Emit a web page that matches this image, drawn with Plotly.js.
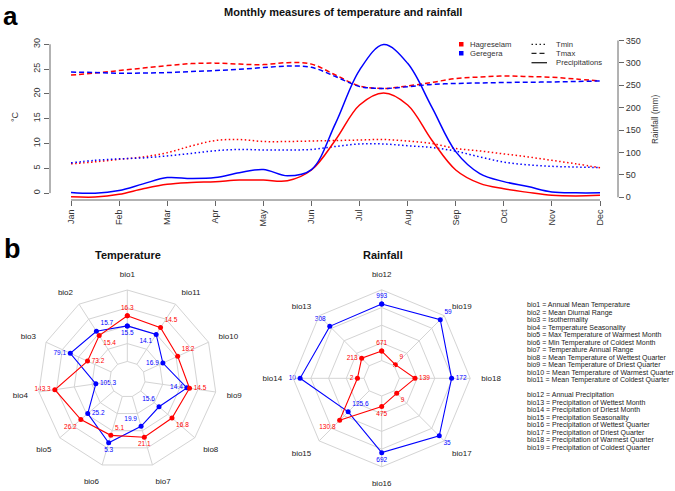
<!DOCTYPE html>
<html><head><meta charset="utf-8">
<script src="https://cdn.plot.ly/plotly-3.0.1.min.js"></script>
<style>html,body{margin:0;padding:0;background:#fff}#chart{width:675px;height:491px}</style>
</head><body><div id="chart"></div>
<script>
// ---------- data: panel a ----------
const monthLabels = ['Jan','Feb','Mar','Apr','May','Jun','Jul','Aug','Sep','Oct','Nov','Dec'];
const monthTicks = [1,2,3,4,5,6,7,8,9,10,11,12];
const sampleX = [1,1.5,2,2.5,3,3.5,4,4.5,5,5.5,6,6.5,7,7.5,8,8.5,9,9.5,10,10.5,11,11.5,12];
const tmaxH = [23.8,24.2,24.7,25.2,25.7,26.1,26.2,26.0,25.9,26.3,26.0,23.8,21.6,21.1,21.6,22.3,23.1,23.4,23.6,23.5,23.35,23.0,22.6];
const tmaxG = [24.4,24.3,24.15,24.2,24.3,24.5,24.7,24.95,25.3,25.6,25.35,23.5,21.5,21.1,21.45,21.9,22.1,22.2,22.3,22.35,22.4,22.5,22.6];
const tminH = [5.9,6.3,6.8,7.3,8.15,9.5,10.6,10.8,10.4,10.4,10.5,10.6,10.7,10.8,10.5,10.0,9.0,8.5,7.9,7.3,6.6,5.9,5.1];
const tminG = [6.1,6.6,6.9,7.1,7.5,8.0,8.55,8.8,8.7,8.7,8.8,9.4,9.9,9.9,9.55,9.2,8.45,7.3,6.25,5.7,5.4,5.25,5.15];
const rainH = [1.4,0.7,6.6,19,29,33,35,38.6,38.6,37,61,128,206,233,206,128,61,31,19,11,4.4,3,4.4];
const rainG = [11,9,15,30,44,42,44,55,62,48,62,165,284,341,299,202,102,53,35,24,12,10,10];
const tempTicks = [0,5,10,15,20,25,30];
const rainTicks = [0,50,100,150,200,250,300,350];

// ---------- data: panel b ----------
const tempCats = ['bio1','bio2','bio3','bio4','bio5','bio6','bio7','bio8','bio9','bio10','bio11'];
const tempValH = ['16.3','15.4','73.2','143.3','26.2','5.1','21.1','16.8','14.5','18.2','14.5'];
const tempValG = ['15.5','15.7','79.1','105.3','25.2','5.3','19.9','15.6','14.4','16.9','14.1'];
const tempRH = [3.56,2.91,2.45,4.1,3.44,3.27,3.38,3.31,3.52,3.1,3.44];
const tempRG = [2.99,3.2,3.51,1.78,2.93,3.7,2.74,2.35,3.37,2.19,2.99];
const rainCats = ['bio12','bio13','bio14','bio15','bio16','bio17','bio18','bio19'];
const rainValH = ['671','213','2','130.8','475','9','139','9'];
const rainValG = ['993','308','10','125.6','692','35','172','59'];
const rainRH = [1.54,1.6,1.37,3.36,1.6,1.2,1.88,1.09];
const rainRG = [4.2,4.15,4.61,2.68,4.2,4.6,3.95,4.68];
const radarRings = [1,2,3,4,5];
const bioKey1 = ['bio1 = Annual Mean Temperature','bio2 = Mean Diurnal Range','bio3 = Isothermality','bio4 = Temperature Seasonality','bio5 = Max Temperature of Warmest Month','bio6 = Min Temperature of Coldest Month','bio7 = Temperature Annual Range','bio8 = Mean Temperature of Wettest Quarter','bio9 = Mean Temperature of Driest Quarter','bio10 = Mean Temperature of Warmest Quarter','bio11 = Mean Temperature of Coldest Quarter'];
const bioKey2 = ['bio12 = Annual Precipitation','bio13 = Precipitation of Wettest Month','bio14 = Precipitation of Driest Month','bio15 = Precipitation Seasonality','bio16 = Precipitation of Wettest Quarter','bio17 = Precipitation of Driest Quarter','bio18 = Precipitation of Warmest Quarter','bio19 = Precipitation of Coldest Quarter'];

// label placement (style)
const tempPosH = ['top center','bottom right','middle right','middle left','bottom left','top right','bottom center','bottom right','middle right','top right','top right'];
const tempPosG = ['bottom center','top right','middle left','middle right','middle right','bottom center','top left','top left','middle left','middle left','bottom left'];
const rainPosH = ['top center','middle left','middle left','bottom left','bottom center','bottom right','middle right','top right'];
const rainPosG = ['top center','top left','middle left','top right','bottom center','bottom right','middle right','top right'];

const W = 675, H = 491;
const px = v => v / W, py = v => 1 - v / H;
const RED = '#ff0000', BLUE = '#0000ff';
const FONT = 'Liberation Sans, Arial, sans-serif';

const traces = [];
function line(y, color, dash, axis) {
  traces.push({type:'scatter', x: sampleX, y: y, mode:'lines', xaxis:'x', yaxis: axis,
    line:{color: color, width: 1.5, dash: dash, shape:'spline', smoothing: 1}, showlegend:false, hoverinfo:'skip'});
}
line(tminH, RED, '1.5px,2.5px', 'y');
line(tminG, BLUE, '1.5px,2.5px', 'y');
line(tmaxH, RED, '5px,3px', 'y');
line(tmaxG, BLUE, '5px,3px', 'y');
line(rainH, RED, 'solid', 'y2');
line(rainG, BLUE, 'solid', 'y2');

function close(a, extra) { return a.concat([extra === undefined ? a[0] : extra]); }
function radar(sub, cats, r, vals, pos, color) {
  traces.push({type:'scatterpolar', subplot: sub, theta: close(cats), r: close(r),
    text: close(vals, ''), textposition: close(pos, 'top center'), mode:'lines+markers+text',
    line:{color: color, width: 1.1}, marker:{color: color, size: 5},
    textfont:{size: 6.5, color: color, family: FONT}, cliponaxis:false, showlegend:false, hoverinfo:'skip'});
}
radar('polar', tempCats, tempRG, tempValG, tempPosG, BLUE);
radar('polar', tempCats, tempRH, tempValH, tempPosH, RED);
radar('polar2', rainCats, rainRG, rainValG, rainPosG, BLUE);
radar('polar2', rainCats, rainRH, rainValH, rainPosH, RED);

const AX = '#666', TXT = '#333', GRID = '#d4d4d4';
const xL = px(50), xR = px(618), yB = py(200), yT = py(35);

function polarCfg(cx, cy, R, cats) {
  return {
    domain:{x:[px(cx-R), px(cx+R)], y:[py(cy+R), py(cy-R)]},
    gridshape:'linear', hole:0.2, bgcolor:'rgba(0,0,0,0)',
    radialaxis:{range:[1,5], tickvals: radarRings, showticklabels:false, ticks:'', showline:false,
      gridcolor: GRID, gridwidth:1},
    angularaxis:{type:'category', categoryarray: cats, direction:'counterclockwise', rotation:90,
      gridcolor: GRID, showline:true, linecolor: GRID, ticks:'outside', ticklen:9, tickcolor:'rgba(0,0,0,0)',
      tickfont:{size:8, color:'#222', family: FONT}}
  };
}

const shapes = [
  {type:'line', xref:'paper', yref:'y', x0:xL, x1:xL, y0:0, y1:30, line:{color:AX, width:1}},
  {type:'line', xref:'paper', yref:'y2', x0:xR, x1:xR, y0:0, y1:350, line:{color:AX, width:1}},
  {type:'line', xref:'x', yref:'paper', x0:1, x1:12, y0:yB, y1:yB, line:{color:AX, width:1}},
  // legend keys
  {type:'rect', xref:'paper', yref:'paper', x0:px(459), x1:px(463.5), y0:py(46.5), y1:py(42), fillcolor:RED, line:{width:0}},
  {type:'rect', xref:'paper', yref:'paper', x0:px(459), x1:px(463.5), y0:py(55.5), y1:py(51), fillcolor:BLUE, line:{width:0}},
  {type:'line', xref:'paper', yref:'paper', x0:px(531.5), x1:px(547), y0:py(44.3), y1:py(44.3), line:{color:'#222', width:1.3, dash:'1.5px,2.5px'}},
  {type:'line', xref:'paper', yref:'paper', x0:px(531.5), x1:px(547), y0:py(53.3), y1:py(53.3), line:{color:'#222', width:1.3, dash:'5px,3px'}},
  {type:'line', xref:'paper', yref:'paper', x0:px(531.5), x1:px(547), y0:py(62.7), y1:py(62.7), line:{color:'#222', width:1.3}}
];

const ann = [];
function txt(t, x, y, size, opts) {
  ann.push(Object.assign({text:t, x:px(x), y:py(y), xref:'paper', yref:'paper', showarrow:false,
    xanchor:'center', yanchor:'middle', font:{size:size, color:'#111', family:FONT}}, opts||{}));
}
txt('<b>Monthly measures of temperature and rainfall</b>', 343, 12, 11);
txt('<b>a</b>', 11, 0, 26, {yanchor:'top', borderpad:0, font:{size:26, color:'#000', family:FONT}});
txt('<b>b</b>', 12, 249, 27, {font:{size:27, color:'#000', family:FONT}});
txt('<b>Temperature</b>', 128, 255, 11);
txt('<b>Rainfall</b>', 383, 255, 11);
txt('°C', 15, 117, 9, {textangle:-90, font:{size:9, color:TXT, family:FONT}});
txt('Rainfall (mm)', 655, 119, 8.3, {textangle:-90, font:{size:8.3, color:TXT, family:FONT}});
txt('Hagreselam', 468, 44.3, 7.7, {xanchor:'left', font:{size:7.7, color:TXT, family:FONT}});
txt('Geregera', 468, 53.3, 7.7, {xanchor:'left', font:{size:7.7, color:TXT, family:FONT}});
txt('Tmin', 554, 44.3, 7.7, {xanchor:'left', font:{size:7.7, color:TXT, family:FONT}});
txt('Tmax', 554, 53.3, 7.7, {xanchor:'left', font:{size:7.7, color:TXT, family:FONT}});
txt('Precipitations', 554, 62.7, 7.7, {xanchor:'left', font:{size:7.7, color:TXT, family:FONT}});
bioKey1.forEach((t,i) => txt(t, 525, 305 + i*7.5, 7, {xanchor:'left', font:{size:7, color:'#222', family:FONT}}));
bioKey2.forEach((t,i) => txt(t, 525, 395 + i*7.5, 7, {xanchor:'left', font:{size:7, color:'#222', family:FONT}}));

const layout = {
  width: W, height: H, margin:{l:0, r:0, t:0, b:0}, paper_bgcolor:'#fff', plot_bgcolor:'rgba(0,0,0,0)',
  font:{family: FONT},
  showlegend:false,
  xaxis:{domain:[xL, xR], range:[0.563, 12.374], tickvals: monthTicks, ticktext: monthLabels, tickangle:-90,
    ticks:'outside', ticklen:5, tickcolor:AX, showline:false, showgrid:false, zeroline:false,
    tickfont:{size:9, color:TXT}, anchor:'y'},
  yaxis:{domain:[yB, yT], range:[-1.39, 31.87], tickvals: tempTicks, tickangle:-90,
    ticks:'outside', ticklen:5, tickcolor:AX, showline:false, showgrid:false, zeroline:false,
    tickfont:{size:9, color:TXT}, anchor:'x'},
  yaxis2:{overlaying:'y', side:'right', anchor:'x', range:[-6.0, 362.3], tickvals: rainTicks,
    ticks:'outside', ticklen:5, tickcolor:AX, showline:false, showgrid:false, zeroline:false,
    tickfont:{size:9, color:TXT}},
  polar: polarCfg(127.3, 379.3, 89.3, tempCats),
  polar2: polarCfg(381.7, 378.3, 88.5, rainCats),
  shapes: shapes, annotations: ann
};
Plotly.newPlot('chart', traces, layout, {staticPlot:true, displayModeBar:false});
</script></body></html>
